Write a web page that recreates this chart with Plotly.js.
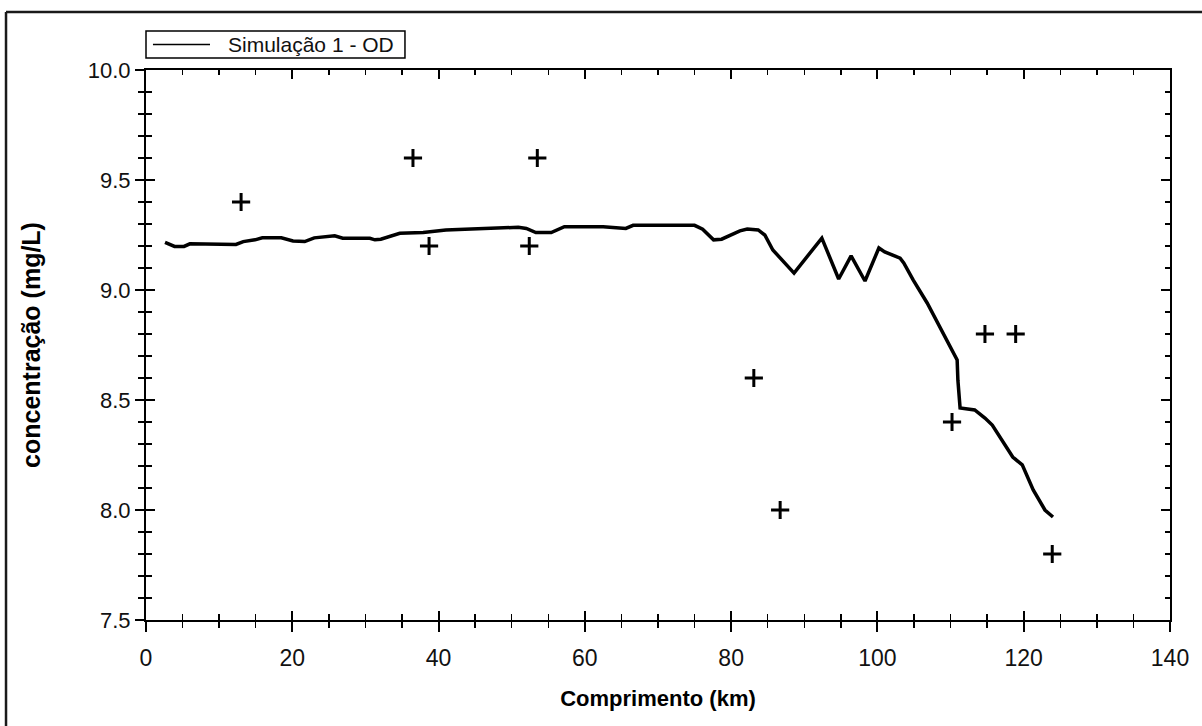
<!DOCTYPE html>
<html>
<head>
<meta charset="utf-8">
<script src="https://cdn.plot.ly/plotly-3.0.1.min.js"></script>
<style>
  html, body { margin: 0; padding: 0; background: #ffffff; }
  #chart { width: 1202px; height: 726px; }
</style>
</head>
<body>
<div id="chart"></div>
<script>
// Simulated dissolved oxygen profile (line)
const simX = [2.6, 3.9, 5.2, 6.0, 12.3, 13.3, 14.9, 15.9, 18.5, 20.1, 21.7, 23.0, 25.8, 26.9, 30.6, 31.3, 32.1, 34.7, 37.9, 41.0, 43.6, 48.3, 50.9, 52.0, 53.3, 55.4, 56.7, 57.2, 62.5, 65.6, 66.6, 75.0, 76.1, 77.6, 78.7, 81.2, 82.2, 83.7, 84.6, 85.7, 88.6, 92.4, 94.7, 96.4, 98.3, 100.2, 101.0, 103.1, 103.6, 104.9, 106.8, 108.6, 109.7, 110.9, 111.0, 111.3, 113.3, 114.7, 115.7, 116.8, 118.5, 119.8, 121.3, 122.9, 124.0];
const simY = [9.216, 9.198, 9.198, 9.21, 9.207, 9.22, 9.228, 9.237, 9.237, 9.223, 9.22, 9.237, 9.246, 9.235, 9.235, 9.228, 9.231, 9.258, 9.261, 9.273, 9.276, 9.28, 9.285, 9.28, 9.261, 9.261, 9.282, 9.288, 9.288, 9.28, 9.294, 9.294, 9.276, 9.228, 9.231, 9.269, 9.277, 9.273, 9.25, 9.182, 9.077, 9.236, 9.05, 9.155, 9.041, 9.191, 9.173, 9.145, 9.123, 9.045, 8.941, 8.827, 8.759, 8.682, 8.59, 8.464, 8.455, 8.418, 8.386, 8.33, 8.241, 8.205, 8.091, 8.0, 7.968];

// Observed values (crosses)
const obsX = [13.0, 36.5, 38.7, 52.4, 53.5, 83.1, 86.7, 110.2, 114.7, 118.9, 123.9];
const obsY = [9.4, 9.6, 9.2, 9.2, 9.6, 8.6, 8.0, 8.4, 8.8, 8.8, 7.8];

// Axis settings
const xRange = [0, 140];
const yRange = [7.5, 10.0];
const xTickVals = [0, 20, 40, 60, 80, 100, 120, 140];
const xTickText = ['0', '20', '40', '60', '80', '100', '120', '140'];
const yTickVals = [7.5, 8.0, 8.5, 9.0, 9.5, 10.0];
const yTickText = ['7.5', '8.0', '8.5', '9.0', '9.5', '10.0'];

const legendName = 'Simulação 1 - OD';
const xTitle = 'Comprimento (km)';
const yTitle = 'concentração (mg/L)';

const FONT = 'Arial, "Liberation Sans", sans-serif';

const traces = [
  {
    x: simX, y: simY, type: 'scatter', mode: 'lines', name: legendName,
    line: { color: '#000000', width: 3.5 },
    showlegend: false, xaxis: 'x', yaxis: 'y'
  },
  {
    x: obsX, y: obsY, type: 'scatter', mode: 'markers', name: 'obs',
    marker: { symbol: 'cross-thin', size: 13, color: '#000000', line: { color: '#000000', width: 3 } },
    showlegend: false, xaxis: 'x', yaxis: 'y'
  },
  // empty helper traces so that the overlay axes (inner/mirrored ticks) are drawn
  { x: [], y: [], type: 'scatter', mode: 'lines', showlegend: false, hoverinfo: 'skip', xaxis: 'x2', yaxis: 'y2' },
  { x: [], y: [], type: 'scatter', mode: 'lines', showlegend: false, hoverinfo: 'skip', xaxis: 'x3', yaxis: 'y3' }
];

const baseAxis = {
  showgrid: false, zeroline: false, showline: true,
  linecolor: '#000000', linewidth: 2, tickcolor: '#000000', tickwidth: 2
};

// legend box drawn in paper coordinates (key with a long line sample, as in the original)
const legBox = { x0: 0, x1: 0.2529, y0: 1.0218, y1: 1.0709 };
const legMidY = (legBox.y0 + legBox.y1) / 2;

const layout = {
  width: 1202, height: 726,
  paper_bgcolor: '#ffffff', plot_bgcolor: '#ffffff',
  margin: { l: 146, r: 32, t: 70, b: 106, pad: 0 },
  font: { family: FONT, color: '#111111' },
  showlegend: false,
  xaxis: Object.assign({}, baseAxis, {
    range: xRange, tickmode: 'array', tickvals: xTickVals, ticktext: xTickText,
    ticks: 'outside', ticklen: 10, ticklabelstandoff: 6,
    minor: { ticks: 'outside', ticklen: 6, dtick: 5, tick0: 0, tickcolor: '#000000', tickwidth: 1.5 },
    tickfont: { family: FONT, size: 23, color: '#111111' },
    title: { text: xTitle, font: { family: FONT, size: 22, color: '#000000', weight: 'bold' }, standoff: 21 },
    anchor: 'y', side: 'bottom'
  }),
  yaxis: Object.assign({}, baseAxis, {
    range: yRange, tickmode: 'array', tickvals: yTickVals, ticktext: yTickText,
    ticks: 'outside', ticklen: 9,
    minor: { ticks: 'outside', ticklen: 6, dtick: 0.1, tick0: 7.5, tickcolor: '#000000', tickwidth: 1.5 },
    tickfont: { family: FONT, size: 22, color: '#111111' },
    title: { text: yTitle, font: { family: FONT, size: 25, color: '#000000', weight: 'bold' }, standoff: 40 },
    anchor: 'x', side: 'left'
  }),
  // inner halves of crossing ticks on bottom & left, plus top & right inner ticks
  xaxis2: Object.assign({}, baseAxis, {
    range: xRange, overlaying: 'x', side: 'bottom', anchor: 'y2',
    tickmode: 'array', tickvals: xTickVals, ticks: 'inside', ticklen: 9, showticklabels: false,
    minor: { ticks: 'inside', ticklen: 6, dtick: 5, tick0: 0, tickcolor: '#000000', tickwidth: 1.5 }
  }),
  yaxis2: Object.assign({}, baseAxis, {
    range: yRange, overlaying: 'y', side: 'left', anchor: 'x2',
    tickmode: 'array', tickvals: yTickVals, ticks: 'inside', ticklen: 9, showticklabels: false,
    minor: { ticks: 'inside', ticklen: 6, dtick: 0.1, tick0: 7.5, tickcolor: '#000000', tickwidth: 1.5 }
  }),
  xaxis3: Object.assign({}, baseAxis, {
    range: xRange, overlaying: 'x', side: 'top', anchor: 'y3',
    tickmode: 'array', tickvals: xTickVals, ticks: 'inside', ticklen: 9, showticklabels: false,
    minor: { ticks: 'inside', ticklen: 5, dtick: 5, tick0: 0, tickcolor: '#000000', tickwidth: 1.5 }
  }),
  yaxis3: Object.assign({}, baseAxis, {
    range: yRange, overlaying: 'y', side: 'right', anchor: 'x3',
    tickmode: 'array', tickvals: yTickVals, ticks: 'inside', ticklen: 9, showticklabels: false,
    minor: { ticks: 'inside', ticklen: 5, dtick: 0.1, tick0: 7.5, tickcolor: '#000000', tickwidth: 1.5 }
  }),
  shapes: [
    // outer frame (left and top edges visible)
    { type: 'line', xref: 'paper', yref: 'paper', x0: -0.1367, x1: -0.1367, y0: 1.1055, y1: -0.2, line: { color: '#1a1a1a', width: 2.5 } },
    { type: 'line', xref: 'paper', yref: 'paper', x0: -0.1367, x1: 1.04, y0: 1.1055, y1: 1.1055, line: { color: '#1a1a1a', width: 2.5 } },
    // legend box and key line
    { type: 'rect', xref: 'paper', yref: 'paper', x0: legBox.x0, x1: legBox.x1, y0: legBox.y0, y1: legBox.y1,
      fillcolor: '#ffffff', line: { color: '#000000', width: 1.5 } },
    { type: 'line', xref: 'paper', yref: 'paper', x0: 0.0068, x1: 0.0625, y0: legMidY, y1: legMidY,
      line: { color: '#000000', width: 1.5 } }
  ],
  annotations: [
    { xref: 'paper', yref: 'paper', x: 0.0781, y: legMidY, xanchor: 'left', yanchor: 'middle',
      text: legendName, showarrow: false, font: { family: FONT, size: 21, color: '#111111' } }
  ]
};

Plotly.newPlot('chart', traces, layout, { staticPlot: true, displayModeBar: false });
</script>
</body>
</html>
